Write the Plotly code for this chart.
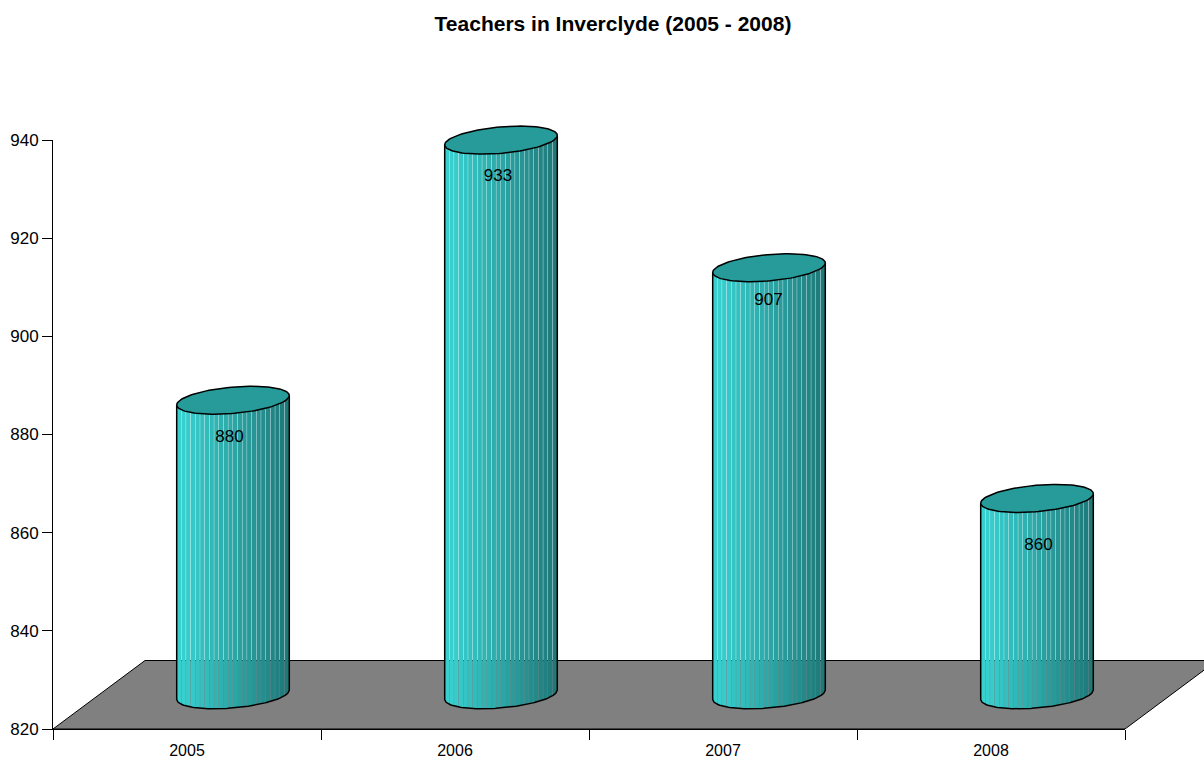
import numpy as np
import plotly.graph_objects as go

# ---------------- data ----------------
years = ["2005", "2006", "2007", "2008"]
teachers = [880, 933, 907, 860]
y_ticks = [820, 840, 860, 880, 900, 920, 940]
title_text = "Teachers in Inverclyde (2005 - 2008)"

# ---------------- layout geometry (pixels) ----------------
W, H = 1204, 761
ML, MR, MT, MB = 53, 0, 100, 32
PW, PH = W - ML - MR, H - MT - MB
AX_W, AX_H = 1072, 589            # visible axis lengths
ncat = len(years)
YMIN, YMAX = y_ticks[0], y_ticks[-1]
px_x = AX_W / ncat                # px per category unit
px_y = AX_H / (YMAX - YMIN)       # px per value unit
x_rng = [-0.5, -0.5 + PW / px_x]
y_rng = [YMIN, YMIN + PH / px_y]

DEPTH_PX = (92.0, 68.5)           # oblique depth of the floor
dep_x = DEPTH_PX[0] / px_x
dep_y = DEPTH_PX[1] / px_y

# cylinder ellipse (pixels): x = A cos t + C sin t ; y(up) = D sin t
A_PX, C_PX, D_PX = 53.0, 19.0, 14.0
R_PX = np.hypot(A_PX, C_PX)
PHI = np.arctan2(C_PX, A_PX)
NSTRIP = 24
GAP_PX = 0.35

# label nudges in pixels (right, down)
LBL_DX = [-3.5, -3.0, -0.5, 1.5]
LBL_DY = [3.0, 2.0, -1.0, 13.0]

FONT = "Liberation Sans, Arial, sans-serif"
c_light = np.array([0x38, 0xcf, 0xcf])
c_dark = np.array([0x1f, 0x78, 0x78])
CAP = "#279a9a"
FLOOR = "#808080"


def env(u_px, upper):
    al = np.arccos(np.clip(u_px / R_PX, -1, 1))
    a = D_PX * np.sin(PHI + al)
    b = D_PX * np.sin(PHI - al)
    return np.maximum(a, b) if upper else np.minimum(a, b)


fig = go.Figure()

# floor
fx = [-0.5, ncat - 0.5, ncat - 0.5 + dep_x, -0.5 + dep_x, -0.5]
fy = [YMIN, YMIN, YMIN + dep_y, YMIN + dep_y, YMIN]
fig.add_trace(go.Scatter(x=fx, y=fy, mode="lines", fill="toself",
                         fillcolor=FLOOR, line=dict(color="black", width=1),
                         hoverinfo="skip", showlegend=False))

centers_x = [i + dep_x / 2 for i in range(ncat)]
base_y = YMIN + dep_y / 2
tops_y = [v + dep_y / 2 for v in teachers]

# body strips
edges = np.linspace(-R_PX, R_PX, NSTRIP + 1)
for k in range(NSTRIP):
    t = (k + 0.5) / NSTRIP
    tt = min(1.0, max(0.0, (t - 0.08) / 0.92))
    col = c_light * (1 - tt) + c_dark * tt
    color = "rgb(%d,%d,%d)" % tuple(col.astype(int))
    u0 = edges[k]
    u1 = edges[k + 1] - (GAP_PX if k < NSTRIP - 1 else 0)
    us = np.linspace(u0, u1, 4)
    xs, ys = [], []
    for cx, ty in zip(centers_x, tops_y):
        lo = env(us, False)
        hi = env(us, True)
        px = list(cx + us / px_x) + list(cx + us[::-1] / px_x)
        py = list(base_y + lo / px_y) + list(ty + hi[::-1] / px_y)
        xs += px + [px[0], None]
        ys += py + [py[0], None]
    fig.add_trace(go.Scatter(x=xs, y=ys, mode="lines", fill="toself",
                             fillcolor=color, line=dict(width=0),
                             hoverinfo="skip", showlegend=False))

# outlines + caps
th = np.linspace(0, 2 * np.pi, 121)
ux = np.linspace(-R_PX, R_PX, 80)
ox, oy, capx, capy = [], [], [], []
for cx, ty in zip(centers_x, tops_y):
    lo = env(ux, False)
    ox += [cx - R_PX / px_x] + list(cx + ux / px_x) + [cx + R_PX / px_x, None]
    oy += [ty + env(np.array([-R_PX]), True)[0] / px_y] + list(base_y + lo / px_y) + \
          [ty + env(np.array([R_PX]), True)[0] / px_y, None]
    ex = A_PX * np.cos(th) + C_PX * np.sin(th)
    ey = D_PX * np.sin(th)
    capx += list(cx + ex / px_x) + [None]
    capy += list(ty + ey / px_y) + [None]

fig.add_trace(go.Scatter(x=ox, y=oy, mode="lines", line=dict(color="black", width=1.5),
                         hoverinfo="skip", showlegend=False))
fig.add_trace(go.Scatter(x=capx, y=capy, mode="lines", fill="toself", fillcolor=CAP,
                         line=dict(color="black", width=1.5),
                         hoverinfo="skip", showlegend=False))

# value labels
fig.add_trace(go.Scatter(
    x=[cx + dx / px_x for cx, dx in zip(centers_x, LBL_DX)],
    y=[v - dy / px_y for v, dy in zip(teachers, LBL_DY)],
    mode="text", text=[str(v) for v in teachers],
    textposition="middle center",
    textfont=dict(family=FONT, size=17, color="black"),
    hoverinfo="skip", showlegend=False))

# dummy trace for the visible axes
fig.add_trace(go.Scatter(x=[None], y=[None], xaxis="x2", yaxis="y2",
                         hoverinfo="skip", showlegend=False))

fig.update_layout(
    width=W, height=H,
    margin=dict(l=ML, r=MR, t=MT, b=MB, autoexpand=False),
    paper_bgcolor="white", plot_bgcolor="rgba(0,0,0,0)",
    showlegend=False,
    font=dict(family=FONT, size=17, color="black"),
    title=dict(text="<b>" + title_text + "</b>", x=613 / W, xanchor="center",
               xref="container", y=1 - 24 / H, yanchor="middle", yref="container",
               font=dict(family=FONT, size=21, color="black")),
    xaxis=dict(domain=[0, 1], range=x_rng, visible=False, fixedrange=True),
    yaxis=dict(domain=[0, 1], range=y_rng, visible=False, fixedrange=True),
    xaxis2=dict(domain=[0, AX_W / PW], range=[-0.5, ncat - 0.5], anchor="y2",
                type="linear", showline=True, linecolor="black", linewidth=1,
                showgrid=False, zeroline=False, fixedrange=True,
                tickvals=list(range(ncat)), ticktext=years,
                ticks="outside", ticklen=7, tickcolor="rgba(0,0,0,0)",
                tickfont=dict(family=FONT, size=16, color="black"),
                minor=dict(tickvals=[i - 0.5 for i in range(ncat + 1)],
                           ticks="outside", ticklen=10, tickcolor="black",
                           tickwidth=1, showgrid=False)),
    yaxis2=dict(domain=[0, AX_H / PH], range=[YMIN, YMAX], anchor="x2",
                type="linear", showline=True, linecolor="black", linewidth=1,
                showgrid=False, zeroline=False, fixedrange=True,
                tickvals=y_ticks, ticks="outside", ticklen=10,
                tickcolor="black", tickwidth=1,
                tickfont=dict(family=FONT, size=17, color="black")),
)

fig.write_html("out.html", config={"displayModeBar": False},
               post_script="document.body.style.margin='0';")
